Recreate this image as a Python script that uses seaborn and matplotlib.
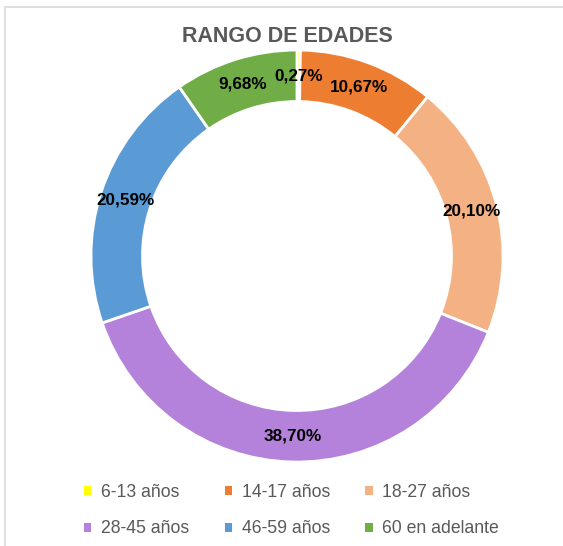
import matplotlib
matplotlib.use("Agg")
import matplotlib.pyplot as plt
from matplotlib.patches import Patch, Rectangle
import seaborn as sns

# chart data
categories = ['6-13 años', '14-17 años', '18-27 años',
              '28-45 años', '46-59 años', '60 en adelante']
percentages = [0.27, 10.67, 20.10, 38.70, 20.59, 9.68]
colors = ['#FFFF00', '#ED7D31', '#F4B183', '#B482DA', '#5B9BD5', '#70AD47']
title = 'RANGO DE EDADES'

sns.set_theme(style='white')
plt.rcParams['font.family'] = ['Liberation Sans', 'DejaVu Sans']

fig = plt.figure(figsize=(5.63, 5.46), dpi=100)

# light gray chart frame
fig.patches.append(Rectangle((5 / 563, -0.1), 1.2, 1 - 7 / 546 + 0.1,
                             transform=fig.transFigure, fill=False,
                             edgecolor='#D9D9D9', linewidth=1.2))

ax = fig.add_axes([0.1616, 0.1538, 0.7318, 0.7546])
wedges, texts, autotexts = ax.pie(
    percentages,
    colors=colors,
    startangle=90,
    counterclock=False,
    radius=1.0,
    autopct=lambda p: '',
    pctdistance=0.875,
    wedgeprops=dict(width=0.25, edgecolor='white', linewidth=2),
    textprops=dict(fontsize=12.3, fontweight='bold', color='black'),
)
for t, v in zip(autotexts, percentages):
    t.set_text(f'{v:.2f}%'.replace('.', ','))
ax.set_xlim(-1, 1)
ax.set_ylim(-1, 1)
ax.set_aspect('equal')
ax.axis('off')

fig.text(287 / 563, 1 - 36 / 546, title, ha='center', va='center',
         fontsize=15.5, fontweight='bold', color='#595959')

# legend filled row by row (matplotlib fills column-major)
order = [0, 3, 1, 4, 2, 5]
handles = [Patch(facecolor=colors[i], edgecolor='none') for i in order]
labels = [categories[i] for i in order]
fig.legend(handles, labels, ncol=3, loc='upper left',
           bbox_to_anchor=(84 / 563, 1 - 484 / 546),
           frameon=False, fontsize=12.7, labelcolor='#595959',
           handlelength=0.42, handleheight=0.42, handletextpad=0.55,
           columnspacing=2.0, labelspacing=1.1,
           borderpad=0, borderaxespad=0)

fig.savefig('out.png', dpi=100)
